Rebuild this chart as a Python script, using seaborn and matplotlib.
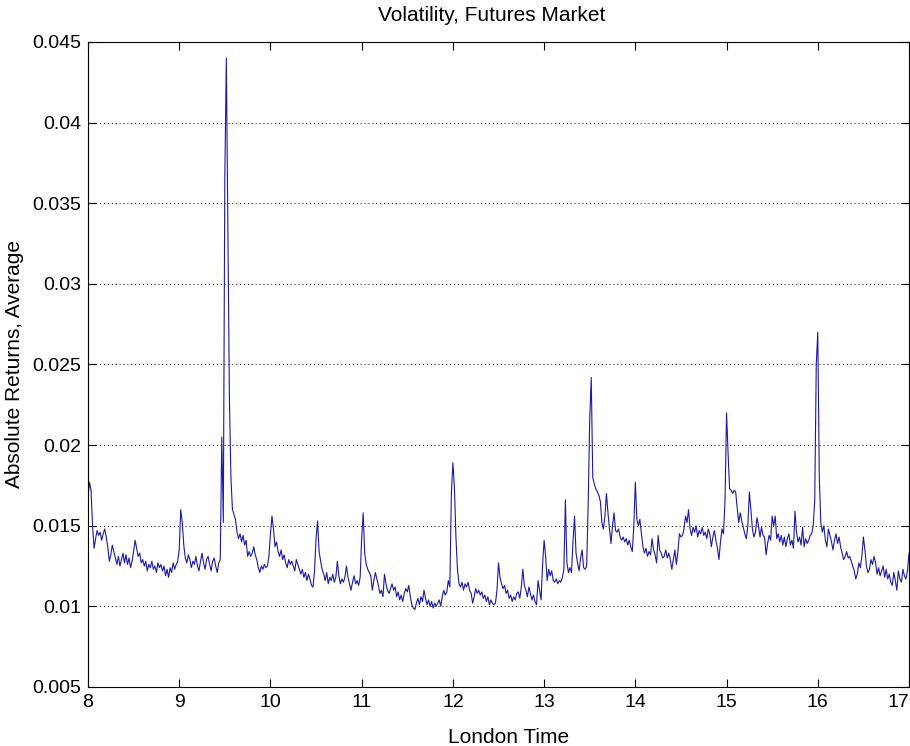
import numpy as np
import pandas as pd
import matplotlib
matplotlib.use("Agg")
import matplotlib.pyplot as plt
import seaborn as sns

# Average absolute returns, one value per minute, in units of 1e-4
h08 = [168,177,172,150,136,142,147,144,146,141, 145,148,143,137,128,132,138,134,130,126,
       131,125,129,133,127,132,126,130,124,128, 134,141,136,131,133,127,129,125,128,122,
       126,124,128,123,125,121,127,124,126,122, 125,119,123,118,124,121,127,123,126,128]
h09 = [135,160,152,138,130,127,132,129,124,128, 126,131,125,122,128,133,127,123,129,131,
       126,122,128,130,125,121,127,129,205,152, 367,440,332,230,180,160,157,154,146,142,
       145,140,144,138,141,131,134,131,133,137, 132,129,124,121,125,123,126,124,125,131]
h10 = [145,156,148,137,140,134,131,135,129,132, 127,124,129,126,128,125,122,129,126,123,
       120,123,118,121,116,120,117,113,112,122, 142,153,134,128,123,120,116,121,114,118,
       116,120,115,118,128,119,114,117,115,118, 125,118,114,110,115,119,114,116,113,118]
h11 = [142,158,133,126,123,121,119,110,116,121, 117,113,108,110,106,120,114,110,108,111,
       114,110,112,106,109,104,107,103,108,111, 109,113,106,101,99,98,102,105,101,106,
       103,110,105,101,104,100,103,99,102,100, 102,104,100,106,110,107,109,116,112,170]
h12 = [189,174,143,123,114,112,115,110,114,112, 115,110,108,102,106,111,108,110,107,109,
       105,107,103,106,101,104,102,101,102,110, 127,118,114,111,113,108,110,105,107,103,
       106,104,108,109,105,112,123,113,110,106, 112,108,104,107,103,101,116,110,104,126]
h13 = [141,131,116,123,119,122,116,115,117,114, 116,115,118,123,166,127,121,124,121,140,
       156,133,127,122,130,135,124,123,125,164, 216,242,180,176,173,171,169,165,152,148,
       156,170,158,148,139,150,158,147,146,148, 143,141,143,140,142,138,141,137,134,150]
h14 = [177,154,150,154,145,137,133,136,131,134, 132,142,135,132,127,144,135,133,130,131,
       135,130,133,129,123,129,135,126,134,145, 143,144,148,156,152,160,148,144,149,146,
       150,143,147,145,149,144,146,142,148,145, 137,143,147,141,136,129,140,148,145,166]
h15 = [220,195,173,172,170,172,171,161,152,158, 153,149,145,142,150,171,160,148,143,146,
       155,150,143,149,144,143,132,139,144,141, 156,150,156,142,145,140,144,138,143,137,
       142,145,138,141,136,159,146,140,143,138, 149,137,142,139,141,144,145,150,166,250]
h16 = [270,180,152,146,150,141,137,148,144,140, 135,141,145,139,143,137,133,129,131,134,
       130,131,128,125,122,117,120,127,124,131, 143,135,125,121,123,129,126,131,127,120,
       124,119,122,125,118,123,117,120,115,113, 121,116,110,122,117,115,123,119,117,122,
       133]

x_ticks = [8, 9, 10, 11, 12, 13, 14, 15, 16, 17]
y_ticks = [0.005, 0.01, 0.015, 0.02, 0.025, 0.03, 0.035, 0.04, 0.045]
y_labels = ["0.005", "0.01", "0.015", "0.02", "0.025", "0.03", "0.035", "0.04", "0.045"]

title = "Volatility, Futures Market"
xlabel = "London Time"
ylabel = "Absolute Returns, Average"

for h in (h08, h09, h10, h11, h12, h13, h14, h15):
    assert len(h) == 60, len(h)
assert len(h16) == 61

minutes = h08 + h09 + h10 + h11 + h12 + h13 + h14 + h15 + h16
values = np.array(minutes) * 1e-4
time = 8 + np.arange(len(values)) / 60.0
df = pd.DataFrame({"time": time, "vol": values})

sns.set_style("ticks")
plt.rcParams['font.family'] = ['Liberation Sans', 'DejaVu Sans']
plt.rcParams['text.color'] = 'black'
plt.rcParams['axes.labelcolor'] = 'black'
plt.rcParams['xtick.color'] = 'black'
plt.rcParams['ytick.color'] = 'black'

fig = plt.figure(figsize=(9.1, 7.46), dpi=100)
ax = fig.add_axes([0.0967, 0.0791, 0.9022, 0.8646])
sns.lineplot(data=df, x="time", y="vol", ax=ax, color="#1a1aa6", linewidth=0.8)

ax.set_xlim(8, 17)
ax.set_ylim(0.005, 0.045)
ax.set_xticks(x_ticks)
ax.set_xticklabels([str(t) for t in x_ticks])
ax.set_yticks(y_ticks)
ax.set_yticklabels(y_labels)
ax.tick_params(direction='in', length=6, width=0.8, top=True, right=True,
               labelsize=14, pad=5, colors='black')
ax.get_xticklabels()[-1].set_horizontalalignment('right')
ax.yaxis.grid(True, linestyle=(0, (1, 3)), color='black', linewidth=0.7)
ax.xaxis.grid(False)
for s in ax.spines.values():
    s.set_visible(True)
    s.set_linewidth(0.8)
    s.set_color('black')

ax.set_xlabel(xlabel, fontsize=15, labelpad=12)
ax.xaxis.label.set_x(0.512)
ax.set_ylabel(ylabel, fontsize=15, labelpad=6)
ax.set_title(title, fontsize=15, pad=15)
ax.title.set_x(0.492)

fig.savefig("out.png", dpi=100)
